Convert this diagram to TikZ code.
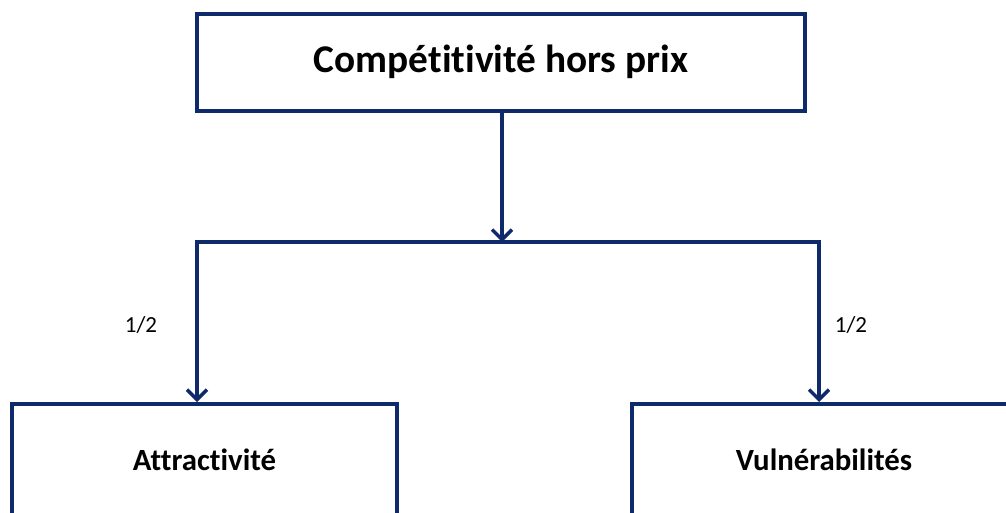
\documentclass[tikz,border=0pt]{standalone}
\usepackage{fontspec}
\setmainfont[Ligatures=NoCommon]{Carlito}
\usetikzlibrary{arrows.meta}
\definecolor{navy}{HTML}{0E2A6B}
\tikzset{
  box/.style={draw=navy, line width=4pt, fill=white, inner sep=0pt, font=\bfseries},
  link/.style={draw=navy, line width=4pt},
  arr/.style={link, -{Straight Barb[length=10pt,width=20pt,line width=3.5pt]}},
  lab/.style={font=\fontsize{23}{27}\selectfont}
}
\begin{document}
\begin{tikzpicture}[x=1pt,y=-1pt]
\useasboundingbox (0,0) rectangle (1006,512);
\clip (0,0) rectangle (1006,512);
\node[box, minimum width=608pt, minimum height=97pt, font=\bfseries\fontsize{39.3}{45}\selectfont] (top) at (501,62) {Compétitivité hors prix};
\node[box, minimum width=385pt, minimum height=112pt, font=\bfseries\fontsize{30.8}{36}\selectfont] (left) at (204.5,460) {Attractivité};
\node[box, minimum width=384pt, minimum height=112pt, font=\bfseries\fontsize{30.8}{36}\selectfont] (right) at (824,460) {Vulnérabilités};
\coordinate (j) at (502,242);
\coordinate (L) at (197,242);
\coordinate (R) at (819,242);
\draw[arr] (top.south -| j) -- (j);
\draw[link, line cap=rect] (L) -- (R);
\draw[arr] (L) -- (L |- left.north);
\draw[arr] (R) -- (R |- right.north);
\node[lab] (l1) at (141,325) {1/2};
\node[lab] (l2) at (851,325) {1/2};
\end{tikzpicture}
\end{document}
